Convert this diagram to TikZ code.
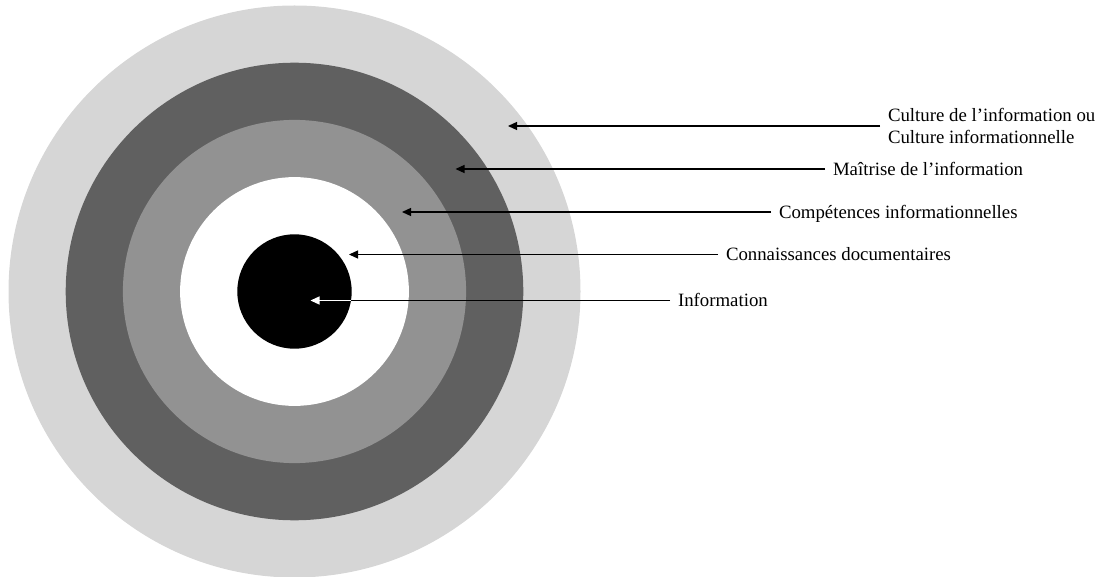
\documentclass[tikz,border=0pt]{standalone}
\usepackage{fontspec}
\setmainfont{Liberation Serif}
\usetikzlibrary{arrows.meta}
\definecolor{ringA}{RGB}{214,214,214}
\definecolor{ringB}{RGB}{96,96,96}
\definecolor{ringC}{RGB}{146,146,146}
\tikzset{
  ring/.style={circle, inner sep=0pt, outer sep=0pt, minimum size=#1},
  lbl/.style={anchor=west, inner xsep=8pt, inner ysep=0pt, outer sep=0pt,
    font=\fontsize{18.8}{22}\selectfont, text height=13pt, text depth=0pt},
  pointer/.style={line width=1.3pt, -{Triangle[length=9pt,width=8pt]}},
}
\begin{document}
\begin{tikzpicture}[x=1pt,y=-1pt]
\useasboundingbox (0,0) rectangle (1101,577);
\coordinate (ctr) at (294.5,291.5);
\node[ring=572pt, fill=ringA] (r5) at (ctr) {};
\node[ring=457.6pt, fill=ringB] (r4) at (ctr) {};
\node[ring=343.2pt, fill=ringC] (r3) at (ctr) {};
\node[ring=228.8pt, fill=white] (r2) at (ctr) {};
\node[ring=114.4pt, fill=black] (r1) at (ctr) {};

\node[lbl, align=left, text height=, text depth=] (t1) at (880,126) {Culture de l’information ou\\Culture informationnelle};
\node[lbl] (t2) at (825,169) {Maîtrise de l’information};
\node[lbl] (t3) at (771,212) {Compétences informationnelles};
\node[lbl] (t4) at (718,254.5) {Connaissances documentaires};
\node[lbl] (t5) at (670,300.5) {Information};

\coordinate (p1) at (508,126);
\coordinate (p2) at (455.5,169);
\coordinate (p3) at (402,212);
\coordinate (p4) at (349,254.5);
\coordinate (p5) at (310.5,300.5);
\coordinate (e5) at (351.2,300.5);

\draw[pointer] (t1.west) -- (p1);
\draw[pointer] (t2.west) -- (p2);
\draw[pointer] (t3.west) -- (p3);
\draw[pointer] (t4.west) -- (p4);
\draw[line width=1.3pt] (t5.west) -- (e5);
\draw[pointer, white] (e5) -- (p5);
\end{tikzpicture}
\end{document}
